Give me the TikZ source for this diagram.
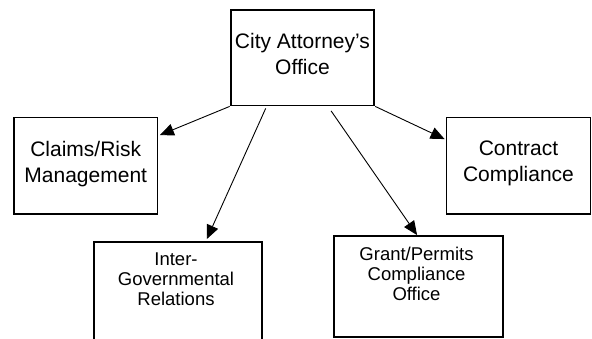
\documentclass[tikz,border=0pt]{standalone}
\usepackage{fontspec}
\setmainfont{Liberation Sans}
\usetikzlibrary{arrows.meta,calc}
\begin{document}
\begin{tikzpicture}[x=1pt,y=-1pt,
  box/.style={draw=black,line width=1.8pt,rectangle,inner sep=0pt},
  bigtext/.style={inner sep=0pt,align=center,font=\fontsize{21}{26}\selectfont},
  smalltext/.style={inner sep=0pt,align=center,font=\fontsize{18.5}{20}\selectfont},
  arr/.style={line width=0.9pt,-{Triangle[length=14pt,width=12pt]}}]
\useasboundingbox (0,0) rectangle (592,339);
\node[box,minimum width=143.7pt,minimum height=95.5pt] (top) at (302.45,57.75) {};
\node[box,minimum width=143.5pt,minimum height=96.5pt] (claims) at (85.75,165.75) {};
\node[box,minimum width=144pt,minimum height=96.5pt] (contract) at (518.5,165.75) {};
\node[box,minimum width=168.8pt,minimum height=101pt] (grant) at (418.4,286.5) {};
\node[inner sep=0pt,minimum width=168pt,minimum height=97pt] (inter) at (178,290.5) {};
\draw[line width=1.8pt] (inter.south west) -- (inter.north west) -- (inter.north east) -- (inter.south east);
\node[bigtext] (toptext) at ([yshift=4pt]top.center) {City Attorney’s\\Office};
\node[bigtext] (claimstext) at ([yshift=2pt]claims.center) {Claims/Risk\\Management};
\node[bigtext] (contracttext) at ([yshift=2pt]contract.center) {Contract\\Compliance};
\node[smalltext,anchor=north] (intertext) at (176,252.4) {Inter-\\Governmental\\Relations};
\node[smalltext,anchor=north] (granttext) at (416.5,246.5) {Grant/Permits\\Compliance\\Office};
\coordinate (s3) at ([shift={(36,2)}]top.south west);
\coordinate (s4) at ([shift={(101.4,4.5)}]top.south west);
\draw[arr] (top.south west) -- ([shift={(1.5,18.5)}]claims.north east);
\draw[arr] (top.south east) -- ([shift={(-1,22.5)}]contract.north west);
\draw[arr] (s3) -- ([shift={(113,-2.7)}]inter.north west);
\draw[arr] (s4) -- ([shift={(84,0)}]grant.north west);
\end{tikzpicture}
\end{document}
